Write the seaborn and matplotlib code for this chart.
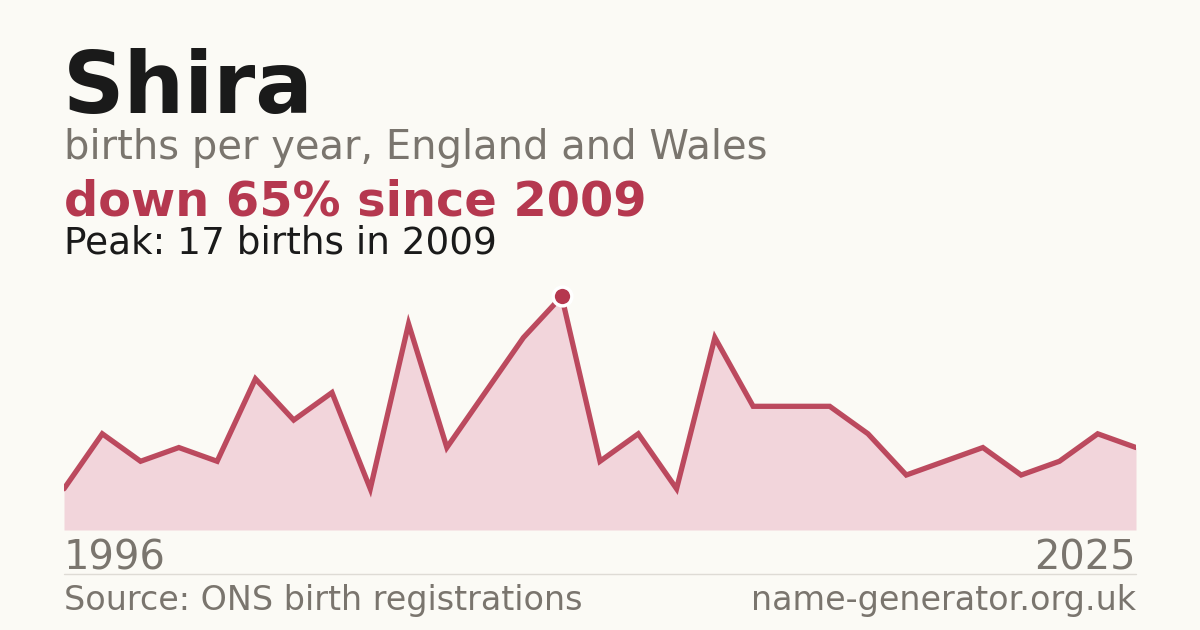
import matplotlib
matplotlib.use("Agg")
import matplotlib.pyplot as plt
import numpy as np
import pandas as pd
import seaborn as sns

# ----------------------------
# Data
# ----------------------------
NAME = "Shira"
FIRST_YEAR = "1996"
LAST_YEAR = "2025"
BIRTHS = [3, 7, 5, 6, 5, 11, 8, 10, 3, 15, 6, 10, 14, 17, 5,
          7, 3, 14, 9, 9, 9, 7, 4, 5, 6, 4, 5, 7, 6]
PEAK_YEAR = "2009"

# ----------------------------
# Colours
# ----------------------------
BG = "#fbfaf5"
INK = "#1a1a1a"
GREY = "#7a756e"
RED = "#b5384f"
FILL = "#f2d5db"
RULE = "#dedbd5"

W, H = 1200, 630

sns.set_theme(style="white")
plt.rcParams["font.family"] = ["DejaVu Sans"]


def fy(px):
    """pixel row from top -> figure fraction"""
    return 1 - px / H


def fx(px):
    return px / W


df = pd.DataFrame({"idx": np.arange(len(BIRTHS)), "births": BIRTHS})
peak_i = int(np.argmax(BIRTHS))
peak_v = BIRTHS[peak_i]
drop = round((1 - BIRTHS[-1] / peak_v) * 100)

fig = plt.figure(figsize=(W / 100, H / 100), dpi=100, facecolor=BG)

left, right = 64, 1136
bottom, top = 530, 280
ax = fig.add_axes([fx(left), fy(bottom), (right - left) / W, (bottom - top) / H])
ax.set_facecolor(BG)

ax.fill_between(df["idx"], df["births"], 0, color=FILL, linewidth=0, zorder=1)
sns.lineplot(data=df, x="idx", y="births", ax=ax, color=RED, linewidth=3.8,
             alpha=0.9, zorder=2, solid_joinstyle="miter")
ax.plot([peak_i], [peak_v], marker="o", markersize=13.5, color=RED,
        markeredgecolor="white", markeredgewidth=2.5, zorder=3, linestyle="none")

ax.set_xlim(0, len(BIRTHS) - 1)
ax.set_ylim(0, peak_v * 1.07)
ax.set_xticks([])
ax.set_yticks([])
ax.set_xlabel("")
ax.set_ylabel("")
for s in ax.spines.values():
    s.set_visible(False)

# ----------------------------
# Header text
# ----------------------------
fig.text(fx(63), fy(113), NAME, fontsize=61.5, fontweight="bold", color=INK, va="baseline")
fig.text(fx(64), fy(159), "births per year, England and Wales", fontsize=28.8,
         color=GREY, va="baseline")
fig.text(fx(64), fy(215), f"down {drop}% since {PEAK_YEAR}", fontsize=34.5,
         fontweight="bold", color=RED, va="baseline")
fig.text(fx(64), fy(253), f"Peak: {peak_v} births in {PEAK_YEAR}", fontsize=26.9,
         color=INK, va="baseline")

# ----------------------------
# Footer
# ----------------------------
fig.text(fx(64), fy(570), FIRST_YEAR, fontsize=28.8, color=GREY, va="baseline")
fig.text(fx(1136), fy(570), LAST_YEAR, fontsize=28.8, color=GREY, va="baseline", ha="right")
fig.add_artist(plt.Line2D([fx(64), fx(1136)], [fy(574), fy(574)], color=RULE, linewidth=1))
fig.text(fx(64), fy(610), "Source: ONS birth registrations", fontsize=24, color=GREY,
         va="baseline")
fig.text(fx(1136), fy(610), "name-generator.org.uk", fontsize=24, color=GREY,
         va="baseline", ha="right")

fig.savefig("out.png", dpi=100, facecolor=BG)
plt.close(fig)
